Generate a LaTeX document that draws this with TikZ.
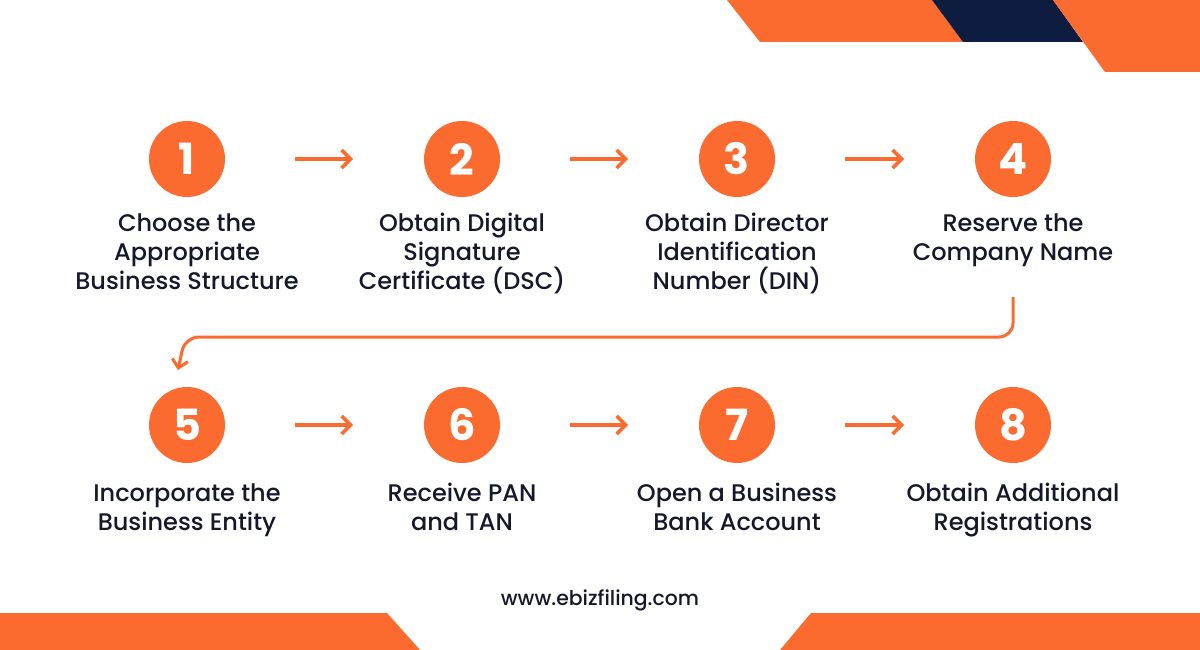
\documentclass[tikz,border=0pt]{standalone}
\usepackage{fontspec}
\setmainfont{Poppins}[UprightFont=* Medium, BoldFont=* Bold]
\usetikzlibrary{arrows.meta}
\definecolor{ora}{HTML}{FB6A2E}
\definecolor{navy}{HTML}{0E1C40}
\definecolor{txt}{HTML}{15172B}
\begin{document}
\begin{tikzpicture}[x=1pt,y=-1pt,
  stepcircle/.style={circle,fill=ora,minimum size=76pt,inner sep=0pt,text=white,font=\fontsize{43}{43}\selectfont\bfseries},
  steplabel/.style={align=center,text=txt,anchor=base,inner sep=0pt,font=\fontsize{24}{29}\selectfont},
  flow/.style={draw=ora,line width=3.5pt,-{Straight Barb[length=9pt,width=18pt,line width=3.5pt]}},
  turn/.style={draw=ora,line width=3pt,rounded corners=14pt,-{Straight Barb[length=8pt,width=16pt,line width=3pt]}}]
\useasboundingbox (0,0) rectangle (1200,650);
\fill[white] (0,0) rectangle (1200,650);
% decorative bands
\fill[ora] (727,0) -- (932,0) -- (963,42) -- (760,42) -- cycle;
\fill[navy] (932,0) -- (1053,0) -- (1083,42) -- (963,42) -- cycle;
\fill[ora] (1053,0) -- (1200,0) -- (1200,72) -- (1105,72) -- cycle;
\fill[ora] (0,613) -- (387,613) -- (420,650) -- (0,650) -- cycle;
\fill[ora] (811,613) -- (1200,613) -- (1200,650) -- (780,650) -- cycle;
% circles
\node[stepcircle] (c1) at (187,159) {1};
\node[stepcircle] (c2) at (462,159) {2};
\node[stepcircle] (c3) at (737,159) {3};
\node[stepcircle] (c4) at (1013,159) {4};
\node[stepcircle] (c5) at (187,425) {5};
\node[stepcircle] (c6) at (462,425) {6};
\node[stepcircle] (c7) at (737,425) {7};
\node[stepcircle] (c8) at (1013,425) {8};
% labels (anchor=base is the baseline of the last line)
\node[steplabel] (t1) at (187,289) {Choose the\\Appropriate\\Business Structure};
\node[steplabel] (t2) at (462,289) {Obtain Digital\\Signature\\Certificate (DSC)};
\node[steplabel] (t3) at (737,289) {Obtain Director\\Identification\\Number (DIN)};
\node[steplabel] (t4) at (1013,260) {Reserve the\\Company Name};
\node[steplabel] (t5) at (187,530) {Incorporate the\\Business Entity};
\node[steplabel] (t6) at (462,530) {Receive PAN\\and TAN};
\node[steplabel] (t7) at (737,530) {Open a Business\\Bank Account};
\node[steplabel] (t8) at (1013,530) {Obtain Additional\\Registrations};
% arrows
\draw[flow] ([xshift=108]c1.center) -- ([xshift=-109]c2.center);
\draw[flow] ([xshift=108]c2.center) -- ([xshift=-109]c3.center);
\draw[flow] ([xshift=108]c3.center) -- ([xshift=-109]c4.center);
\draw[flow] ([xshift=108]c5.center) -- ([xshift=-109]c6.center);
\draw[flow] ([xshift=108]c6.center) -- ([xshift=-109]c7.center);
\draw[flow] ([xshift=108]c7.center) -- ([xshift=-109]c8.center);
\coordinate (s4) at (1013,297);
\coordinate (e5) at (178,370);
\draw[turn] (s4) -- (1013,337) -- (185,337) -- (e5);
% website
\node[anchor=base,text=txt,inner sep=0pt,font=\fontsize{20.4}{20.4}\selectfont] (web) at (600,605) {www.ebizfiling.com};
\end{tikzpicture}
\end{document}
